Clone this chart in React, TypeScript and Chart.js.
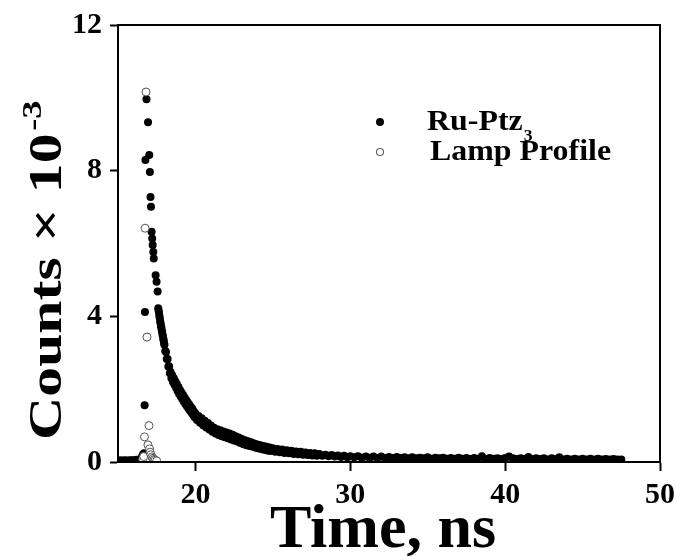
import { useEffect, useRef } from 'react';
import { Chart, registerables } from 'chart.js';

Chart.register(...registerables);

// Ru-Ptz3 emission decay: [time (ns), counts x 10^-3]
const ruPtz3: [number, number][] = [
  [15.0, 0.04], [15.1, 0.03], [15.2, 0.05], [15.3, 0.03], [15.4, 0.04], [15.5, 0.05], [15.6, 0.03], [15.7, 0.04],
  [15.8, 0.05], [15.9, 0.04], [16.0, 0.05], [16.1, 0.04], [16.2, 0.06], [16.3, 0.05], [16.4, 0.07], [16.5, 0.09],
  [16.55, 0.14], [16.6, 0.2], [16.65, 0.18], [16.68, 0.24],
  [16.72, 1.56], [16.74, 4.12], [16.77, 8.29], [16.84, 9.96], [16.94, 9.33], [17.02, 8.43], [17.06, 7.96],
  [17.1, 7.28], [17.13, 7.01], [17.17, 6.32], [17.21, 6.14], [17.24, 5.96], [17.28, 5.77], [17.31, 5.59],
  [17.43, 5.13], [17.49, 4.95], [17.56, 4.68],
  [17.6, 4.22], [17.625, 4.15], [17.65, 4.09], [17.675, 4.0], [17.7, 3.95], [17.725, 3.86], [17.75, 3.81],
  [17.775, 3.73], [17.8, 3.69], [17.825, 3.61], [17.85, 3.57], [17.875, 3.49], [17.9, 3.46], [17.925, 3.38],
  [17.95, 3.34], [17.975, 3.26], [18.0, 3.22], [18.05, 3.05], [18.1, 3.02], [18.15, 2.83], [18.2, 2.83],
  [18.25, 2.62], [18.3, 2.63], [18.35, 2.44], [18.4, 2.47], [18.45, 2.3], [18.5, 2.38], [18.55, 2.2],
  [18.6, 2.3], [18.65, 2.12], [18.7, 2.22], [18.75, 2.04], [18.8, 2.14], [18.85, 1.95], [18.9, 2.06],
  [18.95, 1.87], [19.0, 1.98], [19.05, 1.8], [19.1, 1.91], [19.15, 1.73], [19.2, 1.84], [19.25, 1.66],
  [19.3, 1.77], [19.35, 1.59], [19.4, 1.7], [19.45, 1.53], [19.5, 1.64], [19.55, 1.47], [19.6, 1.58],
  [19.65, 1.41], [19.7, 1.52], [19.75, 1.35], [19.8, 1.46], [19.85, 1.29], [19.9, 1.39], [19.95, 1.23],
  [20.0, 1.33], [20.1, 1.15], [20.2, 1.26], [20.3, 1.08], [20.4, 1.2], [20.5, 1.01], [20.6, 1.13], [20.7, 0.95],
  [20.8, 1.07], [20.9, 0.89], [21.0, 1.0], [21.1, 0.83], [21.2, 0.94], [21.3, 0.78], [21.4, 0.9], [21.5, 0.74],
  [21.6, 0.87], [21.7, 0.71], [21.8, 0.84], [21.9, 0.68], [22.0, 0.81], [22.1, 0.65], [22.2, 0.78], [22.3, 0.62],
  [22.4, 0.75], [22.5, 0.59], [22.6, 0.71], [22.7, 0.56], [22.8, 0.67], [22.9, 0.52], [23.0, 0.63], [23.1, 0.49],
  [23.2, 0.6], [23.3, 0.46], [23.4, 0.57], [23.5, 0.44], [23.6, 0.54], [23.7, 0.42], [23.8, 0.51], [23.9, 0.39],
  [24.0, 0.48], [24.1, 0.37], [24.2, 0.46], [24.3, 0.35], [24.4, 0.44], [24.5, 0.33], [24.6, 0.42], [24.7, 0.31],
  [24.8, 0.4], [24.9, 0.3], [25.0, 0.38], [25.15, 0.28], [25.3, 0.36], [25.45, 0.27], [25.6, 0.34],
  [25.75, 0.25], [25.9, 0.32], [26.05, 0.24], [26.2, 0.31], [26.35, 0.22], [26.5, 0.29], [26.65, 0.21],
  [26.8, 0.28], [26.95, 0.2], [27.1, 0.26], [27.25, 0.19], [27.4, 0.25], [27.55, 0.18], [27.7, 0.24],
  [27.85, 0.17], [28.0, 0.22], [28.2, 0.17], [28.4, 0.2], [28.6, 0.16], [28.8, 0.19], [29.0, 0.15], [29.2, 0.18],
  [29.4, 0.14], [29.6, 0.17], [29.8, 0.13], [30.0, 0.16], [30.25, 0.13], [30.5, 0.16], [30.75, 0.12],
  [31.0, 0.15], [31.25, 0.12], [31.5, 0.15], [31.75, 0.11], [32.0, 0.15], [32.25, 0.11], [32.5, 0.14],
  [32.75, 0.11], [33.0, 0.14], [33.25, 0.11], [33.5, 0.13], [33.75, 0.1], [34.0, 0.13], [34.25, 0.1],
  [34.5, 0.12], [34.75, 0.1], [35.0, 0.13], [35.25, 0.09], [35.5, 0.12], [35.75, 0.1], [36.0, 0.12],
  [36.25, 0.09], [36.5, 0.11], [36.75, 0.09], [37.0, 0.12], [37.25, 0.09], [37.5, 0.11], [37.75, 0.08],
  [38.0, 0.11], [38.25, 0.09], [38.5, 0.16], [38.75, 0.08], [39.0, 0.11], [39.25, 0.09], [39.5, 0.1],
  [39.75, 0.08], [40.0, 0.11], [40.25, 0.15], [40.5, 0.1], [40.75, 0.08], [41.0, 0.1], [41.25, 0.08],
  [41.5, 0.14], [41.75, 0.08], [42.0, 0.1], [42.25, 0.08], [42.5, 0.1], [42.75, 0.07], [43.0, 0.1],
  [43.25, 0.08], [43.5, 0.13], [43.75, 0.07], [44.0, 0.09], [44.25, 0.07], [44.5, 0.09], [44.75, 0.07],
  [45.0, 0.09], [45.25, 0.07], [45.5, 0.09], [45.75, 0.07], [46.0, 0.09], [46.25, 0.07], [46.5, 0.08],
  [46.75, 0.07], [47.0, 0.08], [47.25, 0.07], [47.5, 0.07],
];

// Lamp profile: [time (ns), counts x 10^-3]
const lampProfile: [number, number][] = [
  [16.6, 0.08], [16.66, 0.15], [16.71, 0.69], [16.75, 6.42], [16.81, 10.16], [16.87, 3.43], [16.93, 0.47],
  [17.0, 1.0], [17.04, 0.36], [17.07, 0.27], [17.12, 0.2], [17.19, 0.14], [17.26, 0.1], [17.33, 0.07],
  [17.4, 0.05], [17.5, 0.03],
];

const xTickValues = [20, 30, 40, 50];
const yTickValues = [0, 4, 8, 12];
const seriesNames = ['Ru-Ptz', 'Lamp Profile'];
const seriesSub = '3';
const xTitle = 'Time, ns';
const yTitleMain = 'Counts \u00d7 10';
const yTitleSup = '-3';

const SERIF = '"Liberation Serif", "Times New Roman", serif';

const overlayPlugin = {
  id: 'overlay',
  afterDatasetsDraw(chart: any) {
    const { ctx, chartArea: a } = chart;
    ctx.save();
    ctx.strokeStyle = '#000';
    ctx.lineWidth = 2;
    ctx.strokeRect(a.left, a.top, a.right - a.left, a.bottom - a.top);
    ctx.restore();
  },
  afterDraw(chart: any) {
    const { ctx } = chart;
    ctx.save();
    ctx.fillStyle = '#000';
    // legend markers
    ctx.beginPath();
    ctx.arc(380, 122, 4, 0, Math.PI * 2);
    ctx.fill();
    ctx.beginPath();
    ctx.arc(380, 152, 3.5, 0, Math.PI * 2);
    ctx.strokeStyle = '#666';
    ctx.lineWidth = 1.2;
    ctx.stroke();
    // legend text
    ctx.textAlign = 'left';
    ctx.textBaseline = 'alphabetic';
    ctx.save();
    ctx.translate(427, 130);
    ctx.scale(1.1, 1);
    ctx.font = `bold 29px ${SERIF}`;
    ctx.fillText(seriesNames[0], 0, 0);
    const w0 = ctx.measureText(seriesNames[0]).width;
    ctx.font = `bold 16px ${SERIF}`;
    ctx.fillText(seriesSub, w0 + 1, 11);
    ctx.restore();
    ctx.save();
    ctx.translate(430, 160);
    ctx.scale(1.1, 1);
    ctx.font = `bold 29px ${SERIF}`;
    ctx.fillText(seriesNames[1], 0, 0);
    ctx.restore();
    // x title
    ctx.textAlign = 'center';
    ctx.font = `bold 62px ${SERIF}`;
    ctx.fillText(xTitle, 383, 547);
    // y title
    ctx.save();
    ctx.translate(61, 440);
    ctx.rotate(-Math.PI / 2);
    ctx.scale(1.3, 1);
    ctx.textAlign = 'left';
    ctx.font = `bold 46px ${SERIF}`;
    ctx.fillText(yTitleMain, 0, 0);
    const wy = ctx.measureText(yTitleMain).width;
    ctx.font = `bold 28px ${SERIF}`;
    ctx.fillText(yTitleSup, wy + 2, -20);
    ctx.restore();
    ctx.restore();
  },
};

export default function App() {
  const ref = useRef<HTMLCanvasElement | null>(null);

  useEffect(() => {
    document.body.style.margin = '0';
    if (!ref.current) return;
    const tickFont = { family: SERIF, weight: 'bold' as const, size: 30 };
    const chart = new Chart(ref.current, {
      type: 'scatter',
      data: {
        datasets: [
          {
            label: seriesNames[1],
            data: lampProfile.map(([x, y]) => ({ x, y })),
            pointRadius: 4,
            pointBackgroundColor: '#fff',
            pointBorderColor: '#555',
            pointBorderWidth: 1,
            clip: 0,
          },
          {
            label: seriesNames[0] + seriesSub,
            data: ruPtz3.map(([x, y]) => ({ x, y })),
            pointRadius: 4,
            pointBackgroundColor: '#000',
            pointBorderColor: '#000',
            pointBorderWidth: 0,
            clip: 0,
          },
        ],
      },
      options: {
        responsive: false,
        animation: false,
        events: [],
        layout: { padding: { left: 0, right: 17, top: 25, bottom: 0 } },
        plugins: { legend: { display: false }, tooltip: { enabled: false } },
        scales: {
          x: {
            type: 'linear',
            min: 15,
            max: 50,
            afterBuildTicks: (s: any) => {
              s.ticks = xTickValues.map((v) => ({ value: v }));
            },
            afterFit: (s: any) => {
              s.height = 94;
              s.paddingLeft = 0;
              s.paddingRight = 0;
            },
            grid: { drawOnChartArea: false, drawTicks: true, tickLength: 9, tickWidth: 2, tickColor: '#000' },
            border: { display: true, color: '#000', width: 2 },
            ticks: { color: '#000', font: tickFont, padding: 6, maxRotation: 0, autoSkip: false },
          },
          y: {
            type: 'linear',
            min: 0,
            max: 12,
            afterBuildTicks: (s: any) => {
              s.ticks = yTickValues.map((v) => ({ value: v }));
            },
            afterFit: (s: any) => {
              s.width = 118;
              s.paddingTop = 0;
              s.paddingBottom = 0;
            },
            grid: { drawOnChartArea: false, drawTicks: true, tickLength: 8, tickWidth: 2, tickColor: '#000' },
            border: { display: true, color: '#000', width: 2 },
            ticks: { color: '#000', font: tickFont, padding: 8, autoSkip: false },
          },
        },
      },
      plugins: [overlayPlugin],
    });
    return () => chart.destroy();
  }, []);

  return (
    <div style={{ width: 677, height: 556 }}>
      <canvas ref={ref} width={677} height={556} style={{ display: 'block' }} />
    </div>
  );
}
